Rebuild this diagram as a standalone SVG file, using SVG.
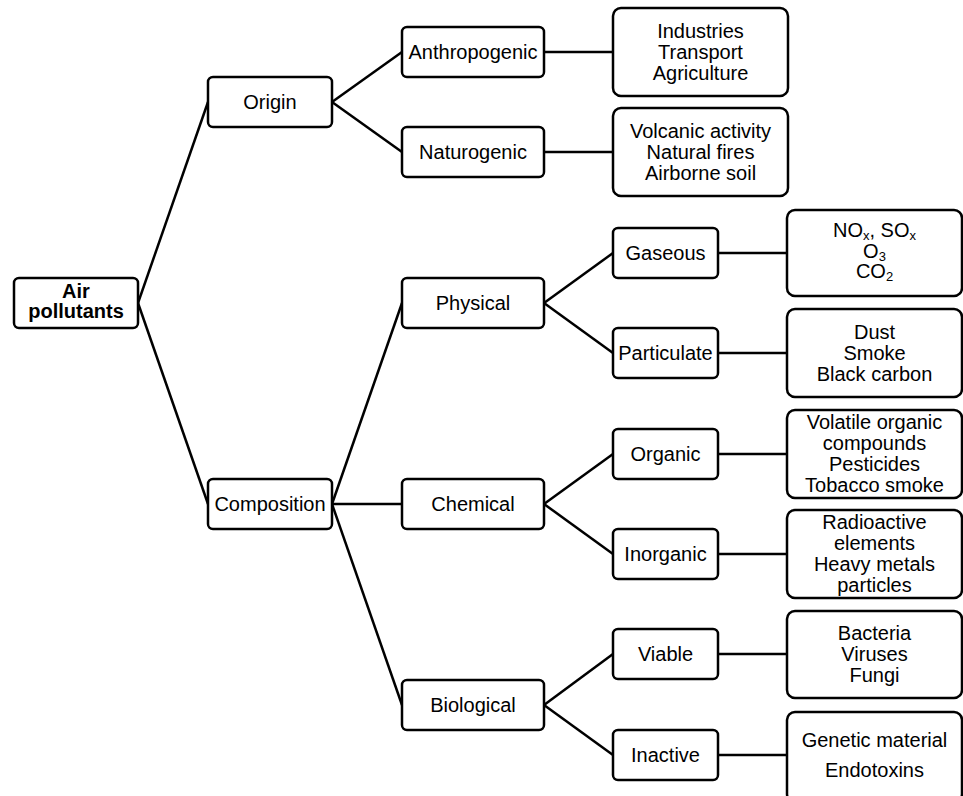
<svg xmlns="http://www.w3.org/2000/svg" width="963" height="796" viewBox="0 0 963 796">
<style>
rect{fill:#fff;stroke:#000;stroke-width:2.5}
text{font-family:"Liberation Sans",Arial,sans-serif;font-size:20px;text-anchor:middle;fill:#000}
.b{font-weight:bold}
.s{font-size:13px}
#connectors line{stroke:#000;stroke-width:2.5}
</style>
<rect x="0" y="0" width="963" height="796" style="fill:#fff;stroke:none"/>
<g id="connectors">
<line x1="138" y1="303" x2="208" y2="102"/>
<line x1="138" y1="303" x2="208" y2="504"/>
<line x1="332" y1="102" x2="402" y2="52"/>
<line x1="332" y1="102" x2="402" y2="152"/>
<line x1="544" y1="52" x2="613" y2="52"/>
<line x1="544" y1="152" x2="613" y2="152"/>
<line x1="332" y1="504" x2="402" y2="303"/>
<line x1="332" y1="504" x2="402" y2="504"/>
<line x1="332" y1="504" x2="402" y2="705"/>
<line x1="544" y1="303" x2="613" y2="253"/>
<line x1="544" y1="303" x2="613" y2="353"/>
<line x1="718" y1="253" x2="787" y2="253"/>
<line x1="718" y1="353" x2="787" y2="353"/>
<line x1="544" y1="504" x2="613" y2="454"/>
<line x1="544" y1="504" x2="613" y2="554"/>
<line x1="718" y1="454" x2="787" y2="454"/>
<line x1="718" y1="554" x2="787" y2="554"/>
<line x1="544" y1="705" x2="613" y2="654"/>
<line x1="544" y1="705" x2="613" y2="755"/>
<line x1="718" y1="654" x2="787" y2="654"/>
<line x1="718" y1="755" x2="787" y2="755"/>
</g>
<g id="air"><rect x="14" y="278" width="124" height="50" rx="5"/><text class="b" x="76" y="298">Air</text><text class="b" x="76" y="318">pollutants</text></g>
<g id="origin"><rect x="208" y="77" width="124" height="50" rx="5"/><text x="270" y="109">Origin</text></g>
<g id="composition"><rect x="208" y="479" width="124" height="50" rx="5"/><text x="270" y="511">Composition</text></g>
<g id="anthropogenic"><rect x="402" y="27" width="142" height="50" rx="5"/><text x="473" y="59">Anthropogenic</text></g>
<g id="naturogenic"><rect x="402" y="127" width="142" height="50" rx="5"/><text x="473" y="159">Naturogenic</text></g>
<g id="physical"><rect x="402" y="278" width="142" height="50" rx="5"/><text x="473" y="310">Physical</text></g>
<g id="chemical"><rect x="402" y="479" width="142" height="50" rx="5"/><text x="473" y="511">Chemical</text></g>
<g id="biological"><rect x="402" y="680" width="142" height="50" rx="5"/><text x="473" y="712">Biological</text></g>
<g id="anthro-list"><rect x="613" y="8" width="175" height="88" rx="8"/><text x="700.5" y="38">Industries</text><text x="700.5" y="59">Transport</text><text x="700.5" y="80">Agriculture</text></g>
<g id="natur-list"><rect x="613" y="108" width="175" height="88" rx="8"/><text x="700.5" y="138">Volcanic activity</text><text x="700.5" y="159">Natural fires</text><text x="700.5" y="180">Airborne soil</text></g>
<g id="gaseous"><rect x="613" y="228" width="105" height="50" rx="5"/><text x="665.5" y="260">Gaseous</text></g>
<g id="particulate"><rect x="613" y="328" width="105" height="50" rx="5"/><text x="665.5" y="360">Particulate</text></g>
<g id="organic"><rect x="613" y="429" width="105" height="50" rx="5"/><text x="665.5" y="461">Organic</text></g>
<g id="inorganic"><rect x="613" y="529" width="105" height="50" rx="5"/><text x="665.5" y="561">Inorganic</text></g>
<g id="viable"><rect x="613" y="629" width="105" height="50" rx="5"/><text x="665.5" y="661">Viable</text></g>
<g id="inactive"><rect x="613" y="730" width="105" height="50" rx="5"/><text x="665.5" y="762">Inactive</text></g>
<g id="gas-list"><rect x="787" y="210" width="175" height="86" rx="8"/>
<text x="874.5" y="237">NO<tspan class="s" dy="3">x</tspan><tspan dy="-3">, SO</tspan><tspan class="s" dy="3">x</tspan><tspan x="874.5" y="258">O</tspan><tspan class="s" dy="3">3</tspan><tspan x="874.5" y="278">CO</tspan><tspan class="s" dy="3">2</tspan></text></g>
<g id="part-list"><rect x="787" y="309" width="175" height="88" rx="8"/><text x="874.5" y="339">Dust</text><text x="874.5" y="360">Smoke</text><text x="874.5" y="381">Black carbon</text></g>
<g id="org-list"><rect x="787" y="410" width="175" height="88" rx="8"/><text x="874.5" y="429">Volatile organic</text><text x="874.5" y="450">compounds</text><text x="874.5" y="471">Pesticides</text><text x="874.5" y="492">Tobacco smoke</text></g>
<g id="inorg-list"><rect x="787" y="510" width="175" height="88" rx="8"/><text x="874.5" y="529">Radioactive</text><text x="874.5" y="550">elements</text><text x="874.5" y="571">Heavy metals</text><text x="874.5" y="592">particles</text></g>
<g id="viable-list"><rect x="787" y="611" width="175" height="87" rx="8"/><text x="874.5" y="640">Bacteria</text><text x="874.5" y="661">Viruses</text><text x="874.5" y="682">Fungi</text></g>
<g id="inactive-list"><rect x="787" y="712" width="175" height="90" rx="8"/><text x="874.5" y="747">Genetic material</text><text x="874.5" y="777">Endotoxins</text></g>
</svg>
